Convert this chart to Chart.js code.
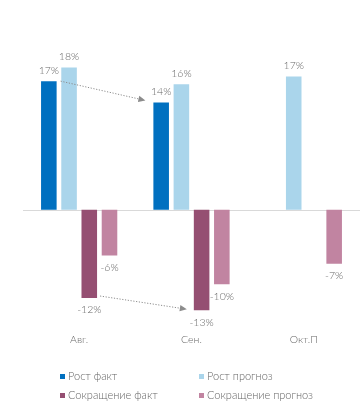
<!DOCTYPE html>
<html><head><meta charset="utf-8">
<script src="https://cdn.jsdelivr.net/npm/chart.js@4/dist/chart.umd.min.js"></script>
<style>
html,body{margin:0;padding:0;background:#fff;}
#wrap{position:relative;width:360px;height:414px;}
#legend{position:absolute;left:0;top:370px;width:360px;font-family:"Lato","DejaVu Sans",sans-serif;font-weight:300;font-size:11px;color:#666;}
.li{position:absolute;white-space:nowrap;line-height:12px;}
.li span.b{display:inline-block;width:5px;height:5px;margin-right:3px;vertical-align:1px;}
</style></head>
<body><div id="wrap"><canvas id="c" width="360" height="414"></canvas><div id="legend"></div></div>
<script>
const categories = ["Авг.", "Сен.", "Окт.П"];
const growthFact = [16.9, 14.1, null];
const growthForecast = [18.7, 16.5, 17.5];
const cutFact = [-11.6, -13.2, null];
const cutForecast = [-6.0, -9.8, -7.1];
const growthFactLabels = ["17%", "14%", null];
const growthForecastLabels = ["18%", "16%", "17%"];
const cutFactLabels = ["-12%", "-13%", null];
const cutForecastLabels = ["-6%", "-10%", "-7%"];
const seriesNames = ["Рост факт", "Рост прогноз", "Сокращение факт", "Сокращение прогноз"];

const FONT = '300 10.5px "Lato", "DejaVu Sans", sans-serif';
const TXT = '#666666';

const labelPlugin = {
  id: 'valLabels',
  afterDatasetsDraw(chart) {
    const ctx = chart.ctx;
    ctx.save();
    ctx.font = FONT;
    ctx.fillStyle = TXT;
    ctx.textAlign = 'center';
    ctx.textBaseline = 'middle';
    chart.data.datasets.forEach((ds, di) => {
      const meta = chart.getDatasetMeta(di);
      meta.data.forEach((el, i) => {
        const v = ds.data[i];
        if (v === null || v === undefined) return;
        const txt = ds.labelsText[i];
        const y = v >= 0 ? el.y - 10.5 : el.y + 12;
        ctx.fillText(txt, el.x, y);
      });
    });
    ctx.restore();
  }
};

function arrow(ctx, x1, y1, x2, y2) {
  const ang = Math.atan2(y2 - y1, x2 - x1);
  const L = 7, W = 3.2;
  const bx = x2 - L * Math.cos(ang), by = y2 - L * Math.sin(ang);
  ctx.beginPath();
  ctx.setLineDash([1.2, 1.6]);
  ctx.moveTo(x1, y1);
  ctx.lineTo(bx, by);
  ctx.stroke();
  ctx.setLineDash([]);
  ctx.beginPath();
  ctx.moveTo(x2, y2);
  ctx.lineTo(bx + W * Math.sin(ang), by - W * Math.cos(ang));
  ctx.lineTo(bx - W * Math.sin(ang), by + W * Math.cos(ang));
  ctx.closePath();
  ctx.fill();
}

const decor = {
  id: 'decor',
  beforeDatasetsDraw(chart) {
    const ctx = chart.ctx, a = chart.chartArea;
    const y0 = Math.round(chart.scales.y.getPixelForValue(0)) + 0.5;
    ctx.save();
    ctx.strokeStyle = '#d9d9d9';
    ctx.lineWidth = 1;
    ctx.beginPath();
    ctx.moveTo(a.left, y0);
    ctx.lineTo(a.right, y0);
    ctx.stroke();
    ctx.restore();
  },
  afterDatasetsDraw(chart) {
    const ctx = chart.ctx;
    const gf = chart.getDatasetMeta(0).data;
    const cf = chart.getDatasetMeta(2).data;
    ctx.save();
    ctx.strokeStyle = '#8c8c8c';
    ctx.fillStyle = '#8c8c8c';
    ctx.lineWidth = 1;
    arrow(ctx, gf[0].x + gf[0].width / 2 + 4, gf[0].y, gf[1].x - gf[1].width / 2 - 8, gf[1].y - 2);
    arrow(ctx, cf[0].x + cf[0].width / 2 + 3, cf[0].y - 2, cf[1].x - cf[1].width / 2 - 7, cf[1].y - 1);
    ctx.restore();
  }
};

const colors = ['#0070C0', '#AAD5EB', '#954F72', '#C184A1'];
const datasets = [
  {label: seriesNames[0], data: growthFact, labelsText: growthFactLabels},
  {label: seriesNames[1], data: growthForecast, labelsText: growthForecastLabels},
  {label: seriesNames[2], data: cutFact, labelsText: cutFactLabels},
  {label: seriesNames[3], data: cutForecast, labelsText: cutForecastLabels}
].map((d, i) => Object.assign(d, {
  backgroundColor: colors[i], borderWidth: 0,
  categoryPercentage: 0.72, barPercentage: 0.77
}));

const chart = new Chart(document.getElementById('c'), {
  type: 'bar',
  data: {labels: categories, datasets},
  options: {
    responsive: false, animation: false,
    layout: {padding: {left: 23, right: 0, top: 19.5, bottom: 67.5}},
    plugins: {legend: {display: false}, tooltip: {enabled: false}},
    scales: {
      x: {
        grid: {display: false}, border: {display: false},
        ticks: {color: TXT, padding: 1, font: {family: '"Lato", "DejaVu Sans", sans-serif', size: 10.5, weight: '300'}}
      },
      y: {display: false, min: -15, max: 25}
    }
  },
  plugins: [decor, labelPlugin]
});

const leg = document.getElementById('legend');
const pos = [[60, 0], [199, 0], [60, 19], [199, 19]];
chart.data.datasets.forEach((ds, i) => {
  const d = document.createElement('div');
  d.className = 'li';
  d.style.left = pos[i][0] + 'px';
  d.style.top = pos[i][1] + 'px';
  d.innerHTML = '<span class="b" style="background:' + ds.backgroundColor + '"></span>' + ds.label;
  leg.appendChild(d);
});
</script></body></html>
